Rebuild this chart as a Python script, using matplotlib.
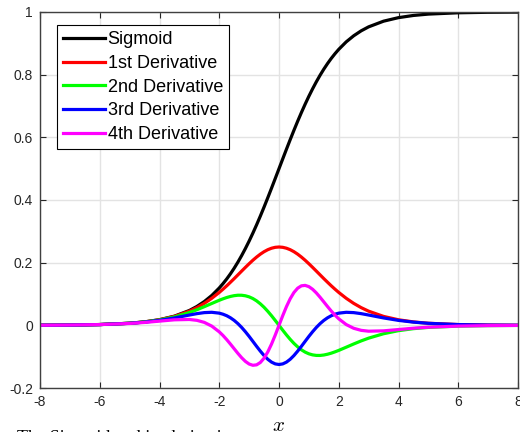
import matplotlib
matplotlib.use('Agg')
import matplotlib.pyplot as plt

plt.rcParams['font.family'] = ['Liberation Sans', 'DejaVu Sans']
plt.rcParams['axes.unicode_minus'] = False
plt.rcParams['mathtext.fontset'] = 'cm'

# values
x = [-8, -7, -6, -5, -4.5, -4, -3.5, -3, -2.75, -2.5, -2.25, -2, -1.875, -1.75, -1.625, -1.5, -1.375,
     -1.25, -1.125, -1, -0.875, -0.75, -0.625, -0.5, -0.375, -0.25, -0.125,
     0,
     0.125, 0.25, 0.375, 0.5, 0.625, 0.75, 0.875, 1, 1.125, 1.25, 1.375, 1.5, 1.625, 1.75, 1.875,
     2, 2.25, 2.5, 2.75, 3, 3.5, 4, 4.5, 5, 6, 7, 8]

sigmoid = [0.0003, 0.0009, 0.0025, 0.0067, 0.0110, 0.0180, 0.0293, 0.0474, 0.0601, 0.0759, 0.0953, 0.1192,
           0.1330, 0.1480, 0.1645, 0.1824, 0.2018, 0.2227, 0.2451, 0.2689, 0.2942, 0.3208, 0.3486, 0.3775,
           0.4073, 0.4378, 0.4688,
           0.5,
           0.5312, 0.5622, 0.5927, 0.6225, 0.6514, 0.6792, 0.7058, 0.7311, 0.7549, 0.7773, 0.7982, 0.8176,
           0.8355, 0.8520, 0.8670, 0.8808, 0.9047, 0.9241, 0.9399, 0.9526, 0.9707, 0.9820, 0.9890, 0.9933,
           0.9975, 0.9991, 0.9997]

d1 = [0.0003, 0.0009, 0.0025, 0.0066, 0.0109, 0.0177, 0.0285, 0.0452, 0.0565, 0.0701, 0.0863, 0.1050,
      0.1153, 0.1261, 0.1375, 0.1491, 0.1611, 0.1731, 0.1850, 0.1966, 0.2077, 0.2179, 0.2271, 0.2350,
      0.2414, 0.2461, 0.2490,
      0.25,
      0.2490, 0.2461, 0.2414, 0.2350, 0.2271, 0.2179, 0.2077, 0.1966, 0.1850, 0.1731, 0.1611, 0.1491,
      0.1375, 0.1261, 0.1153, 0.1050, 0.0863, 0.0701, 0.0565, 0.0452, 0.0285, 0.0177, 0.0109, 0.0066,
      0.0025, 0.0009, 0.0003]

d2 = [0.0003, 0.0009, 0.0025, 0.0066, 0.0106, 0.0170, 0.0268, 0.0409, 0.0497, 0.0595, 0.0698, 0.0800,
      0.0846, 0.0888, 0.0922, 0.0947, 0.0961, 0.0960, 0.0943, 0.0909, 0.0855, 0.0781, 0.0687, 0.0576,
      0.0447, 0.0306, 0.0155,
      0.0,
      -0.0155, -0.0306, -0.0447, -0.0576, -0.0687, -0.0781, -0.0855, -0.0909, -0.0943, -0.0960, -0.0961,
      -0.0947, -0.0922, -0.0888, -0.0846, -0.0800, -0.0698, -0.0595, -0.0497, -0.0409, -0.0268, -0.0170,
      -0.0106, -0.0066, -0.0025, -0.0009, -0.0003]

d3 = [0.0003, 0.0009, 0.0024, 0.0064, 0.0102, 0.0158, 0.0236, 0.0329, 0.0373, 0.0406, 0.0416, 0.0389,
      0.0355, 0.0307, 0.0241, 0.0157, 0.0054, -0.0067, -0.0204, -0.0353, -0.0511, -0.0670, -0.0823, -0.0964,
      -0.1083, -0.1174, -0.1231,
      -0.125,
      -0.1231, -0.1174, -0.1083, -0.0964, -0.0823, -0.0670, -0.0511, -0.0353, -0.0204, -0.0067, 0.0054,
      0.0157, 0.0241, 0.0307, 0.0355, 0.0389, 0.0416, 0.0406, 0.0373, 0.0329, 0.0236, 0.0158, 0.0102,
      0.0064, 0.0024, 0.0009, 0.0003]

d4 = [0.0003, 0.0009, 0.0024, 0.0060, 0.0092, 0.0134, 0.0176, 0.0187, 0.0160, 0.0094, -0.0025, -0.0208,
      -0.0324, -0.0456, -0.0599, -0.0748, -0.0896, -0.1034, -0.1151, -0.1235, -0.1275, -0.1261, -0.1186,
      -0.1048, -0.0849, -0.0598, -0.0309,
      0.0,
      0.0309, 0.0598, 0.0849, 0.1048, 0.1186, 0.1261, 0.1275, 0.1235, 0.1151, 0.1034, 0.0896, 0.0748,
      0.0599, 0.0456, 0.0324, 0.0208, 0.0025, -0.0094, -0.0160, -0.0187, -0.0176, -0.0134, -0.0092,
      -0.0060, -0.0024, -0.0009, -0.0003]

labels = ['Sigmoid', '1st Derivative', '2nd Derivative', '3rd Derivative', '4th Derivative']
colors = ['black', '#ff0000', '#00ff00', '#0000ff', '#ff00ff']
xticks = [-8, -6, -4, -2, 0, 2, 4, 6, 8]
yticks = [-0.2, 0, 0.2, 0.4, 0.6, 0.8, 1]
ytick_labels = ['-0.2', '0', '0.2', '0.4', '0.6', '0.8', '1']

W, H = 520, 432
fig = plt.figure(figsize=(W / 100, H / 100), dpi=100)
ax = fig.add_axes([40 / W, 1 - 388 / H, 478 / W, 376 / H])

for ys, lab, c in zip([sigmoid, d1, d2, d3, d4], labels, colors):
    ax.plot(x, ys, color=c, lw=2.3, label=lab, solid_joinstyle='round')

ax.set_xlim(-8, 8)
ax.set_ylim(-0.2, 1)
ax.set_xticks(xticks)
ax.set_xticklabels([str(t) for t in xticks])
ax.set_yticks(yticks)
ax.set_yticklabels(ytick_labels)
ax.grid(True, color='#e3e3e3', lw=1.0)
ax.set_axisbelow(True)
ax.tick_params(direction='in', top=True, right=True, length=4, width=0.8,
               colors='#262626', labelsize=10, pad=5)
for sp in ax.spines.values():
    sp.set_color('#404040')
    sp.set_linewidth(1.0)

leg = ax.legend(loc='upper left', bbox_to_anchor=(57 / W, 1 - 25 / H), bbox_transform=fig.transFigure,
                fontsize=13, fancybox=False, edgecolor='black', framealpha=1, borderpad=0.35,
                handlelength=2.3, handletextpad=0.15, labelspacing=0.37, borderaxespad=0)
leg.get_frame().set_linewidth(0.8)

fig.text(279 / W, 0.003, '$x$', ha='center', va='baseline', fontsize=15)
# caption sits mostly below the bottom edge, as in the reference
fig.text(17 / W, 0.005, 'The Sigmoid and its derivatives', ha='left', va='top',
         fontsize=13, family=['Liberation Serif', 'DejaVu Serif'])

fig.savefig('out.png', dpi=100)
